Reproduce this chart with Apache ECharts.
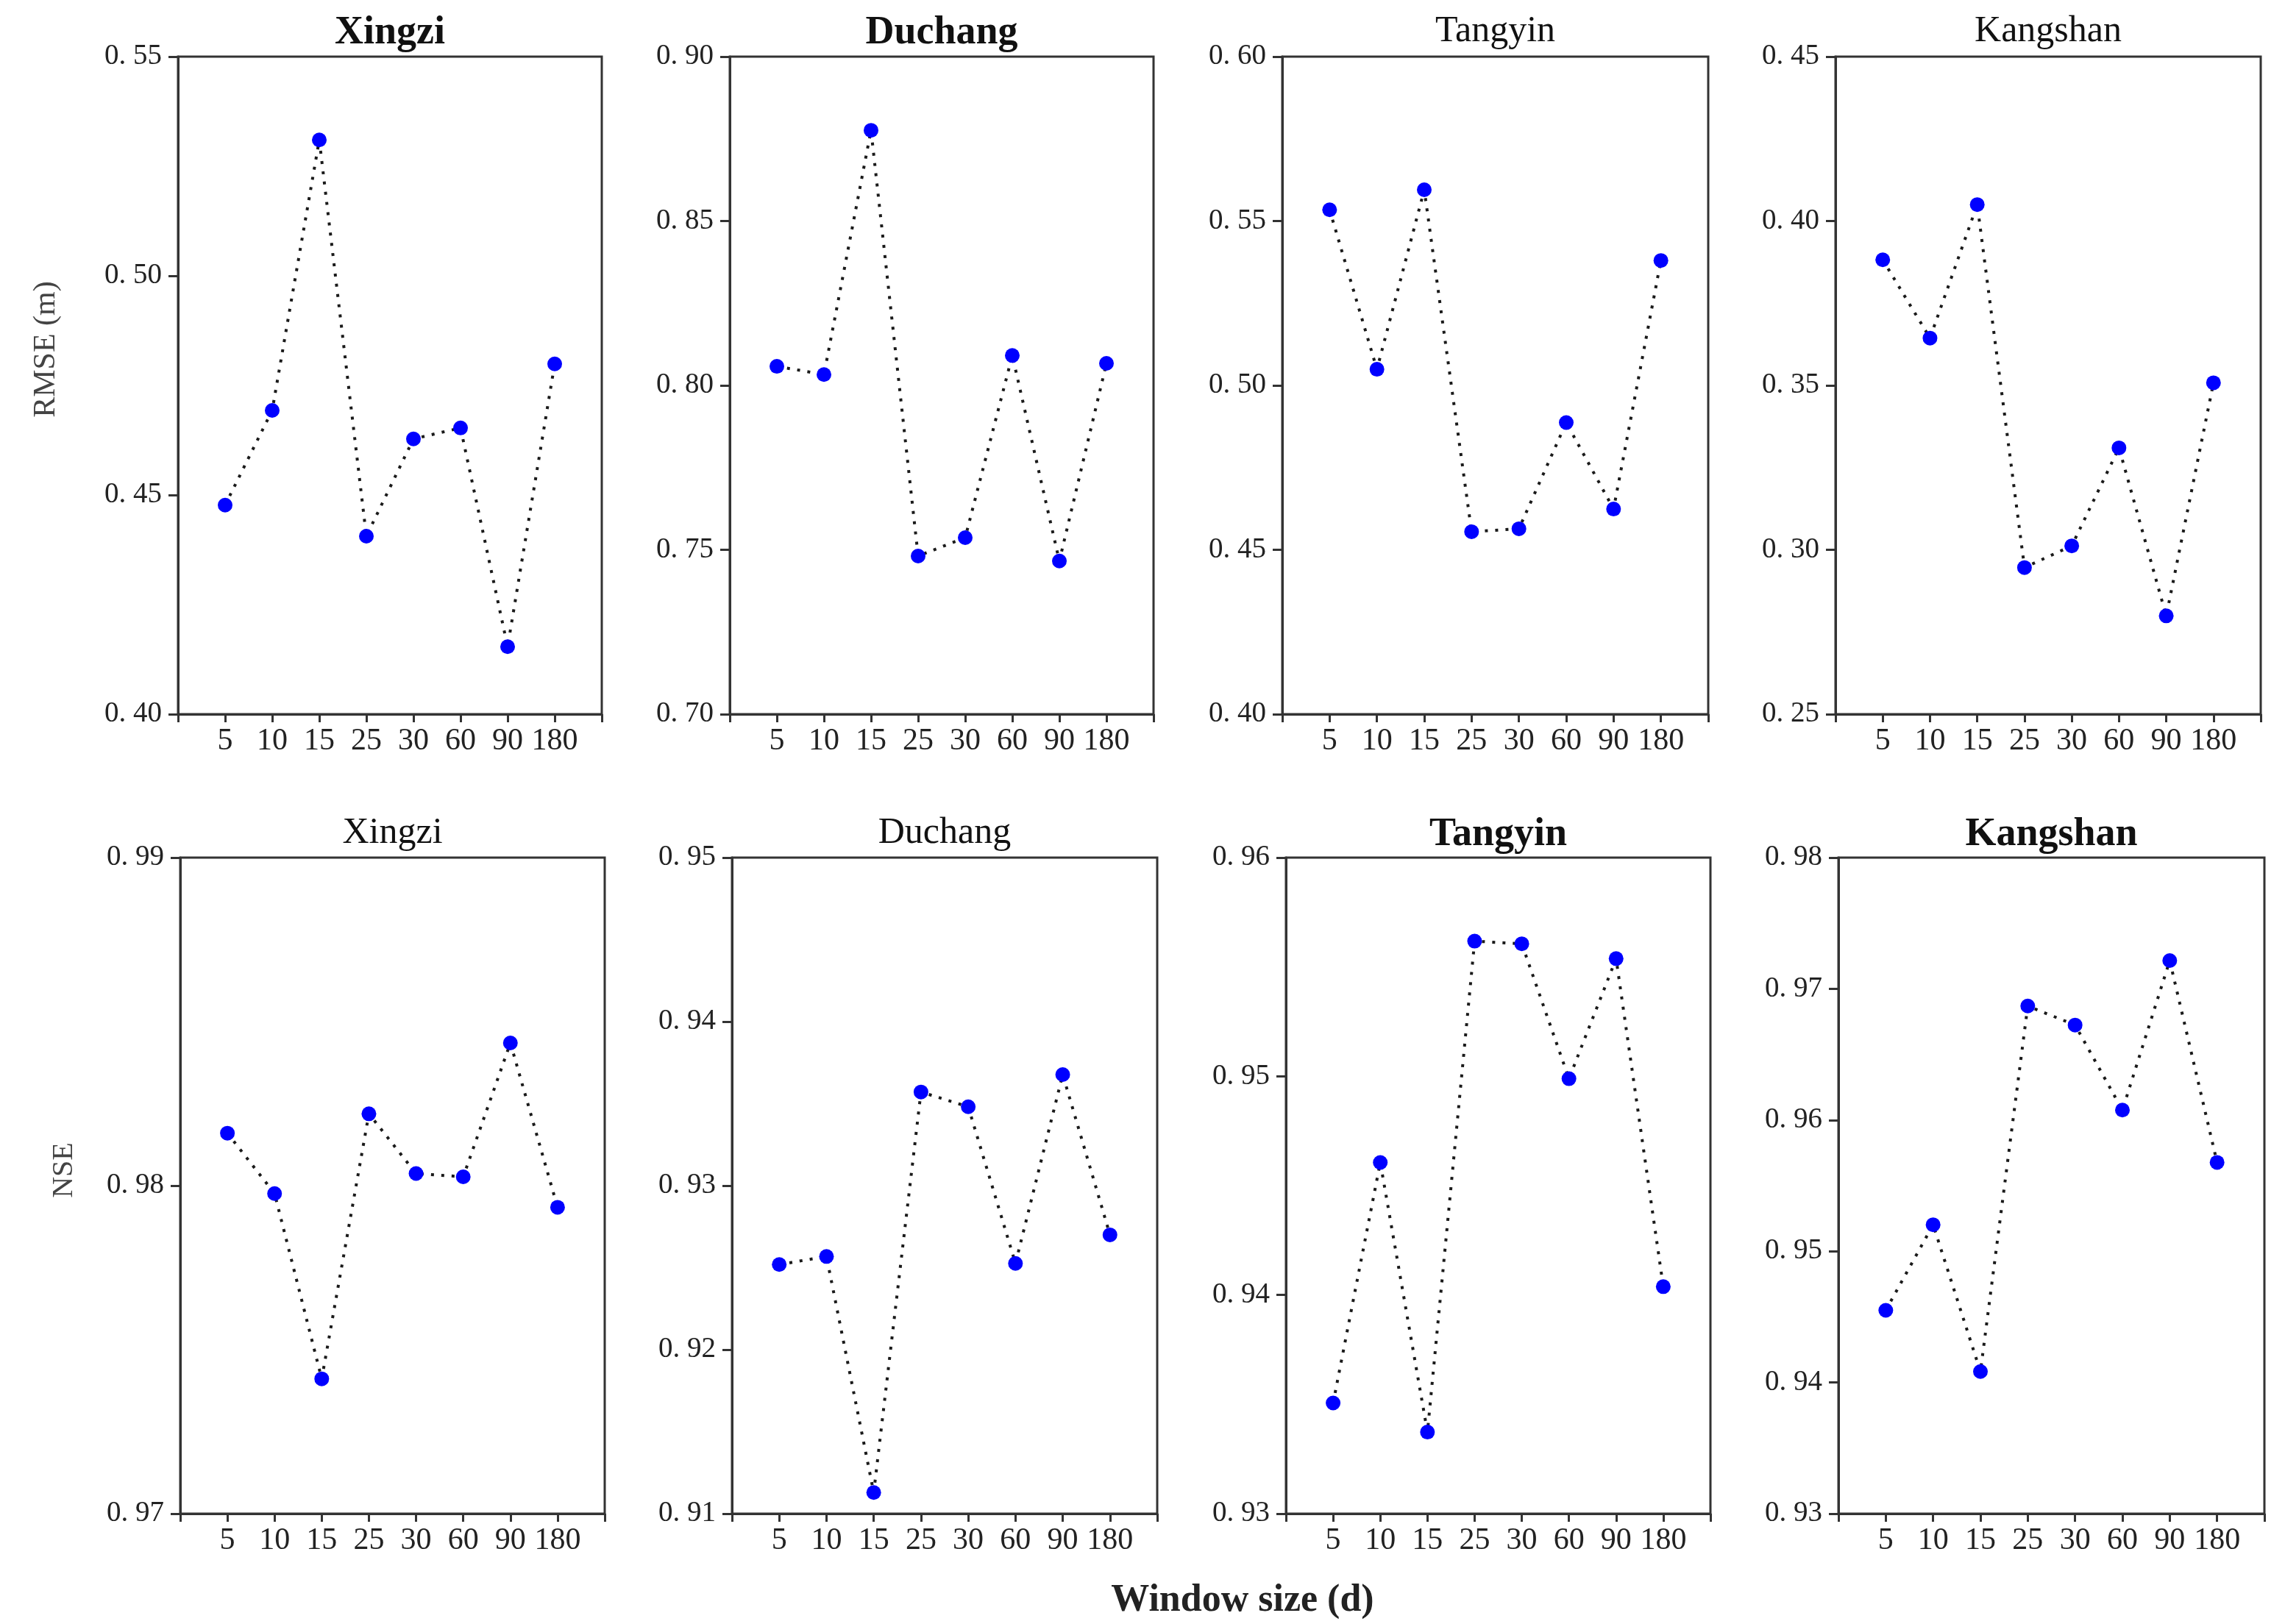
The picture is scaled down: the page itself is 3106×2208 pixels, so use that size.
<!DOCTYPE html>
<html>
<head>
<meta charset="utf-8">
<script src="https://cdn.jsdelivr.net/npm/echarts@6/dist/echarts.min.js"></script>
<style>
  html, body { margin: 0; padding: 0; background: #fff; }
  #main { width: 3106px; height: 2208px; }
</style>
</head>
<body>
<div id="main"></div>
<script>
// window sizes (d) on the x axis
const windowSizes = ['5', '10', '15', '25', '30', '60', '90', '180'];
const stations = ['Xingzi', 'Duchang', 'Tangyin', 'Kangshan'];

// RMSE (m), top row
const rmseXingzi   = [0.4477, 0.4693, 0.5310, 0.4406, 0.4628, 0.4653, 0.4154, 0.4799];
const rmseDuchang  = [0.8058, 0.8033, 0.8776, 0.7481, 0.7537, 0.8091, 0.7466, 0.8067];
const rmseTangyin  = [0.5534, 0.5049, 0.5595, 0.4555, 0.4564, 0.4887, 0.4624, 0.5380];
const rmseKangshan = [0.3882, 0.3644, 0.4050, 0.2946, 0.3012, 0.3310, 0.2799, 0.3508];

// NSE, bottom row
const nseXingzi   = [0.9816, 0.97976, 0.97411, 0.98219, 0.98037, 0.98027, 0.98435, 0.97934];
const nseDuchang  = [0.92519, 0.92568, 0.91129, 0.93571, 0.93481, 0.92526, 0.93677, 0.9270];
const nseTangyin  = [0.93506, 0.94606, 0.93373, 0.95618, 0.95606, 0.94989, 0.95538, 0.94038];
const nseKangshan = [0.9455, 0.95202, 0.94083, 0.96869, 0.96724, 0.96076, 0.97215, 0.95677];

// y axis ranges
const rmseMin = [0.40, 0.70, 0.40, 0.25];
const rmseMax = [0.55, 0.90, 0.60, 0.45];
const rmseStep = 0.05;
const nseMin = [0.97, 0.91, 0.93, 0.93];
const nseMax = [0.99, 0.95, 0.96, 0.98];
const nseStep = 0.01;

const rmseRows = [rmseXingzi, rmseDuchang, rmseTangyin, rmseKangshan];
const nseRows = [nseXingzi, nseDuchang, nseTangyin, nseKangshan];

const topBold = [true, true, false, false];
const bottomBold = [false, false, true, true];

const FONT = 'Liberation Serif';
const chart = echarts.init(document.getElementById('main'));

const panels = [
  // top row
  { left: 242, top: 77, width: 576, height: 894 },
  { left: 992, top: 77, width: 576, height: 894 },
  { left: 1743, top: 77, width: 579, height: 894 },
  { left: 2495, top: 77, width: 578, height: 894 },
  // bottom row
  { left: 245, top: 1166, width: 577, height: 892 },
  { left: 995, top: 1166, width: 578, height: 892 },
  { left: 1748, top: 1166, width: 577, height: 892 },
  { left: 2499, top: 1166, width: 579, height: 892 }
];

const grid = [], xAxis = [], yAxis = [], series = [], title = [];

panels.forEach((p, k) => {
  const row = k < 4 ? 0 : 1;
  const col = k % 4;
  const values = row === 0 ? rmseRows[col] : nseRows[col];
  const bold = row === 0 ? topBold[col] : bottomBold[col];

  grid.push({
    left: p.left, top: p.top, width: p.width, height: p.height,
    show: true, borderColor: '#333', borderWidth: 3, backgroundColor: 'transparent'
  });

  xAxis.push({
    type: 'value', gridIndex: k, min: 0, max: 9, interval: 1,
    axisLine: { lineStyle: { color: '#333', width: 3 } },
    axisTick: { show: true, length: 11, lineStyle: { color: '#333', width: 3 } },
    splitLine: { show: false },
    axisLabel: {
      margin: 16, fontFamily: FONT, fontSize: 42, color: '#222',
      formatter: v => windowSizes[v - 1] || ''
    }
  });

  yAxis.push({
    type: 'value', gridIndex: k,
    min: row === 0 ? rmseMin[col] : nseMin[col],
    max: row === 0 ? rmseMax[col] : nseMax[col],
    interval: row === 0 ? rmseStep : nseStep,
    axisLine: { show: true, lineStyle: { color: '#333', width: 3 } },
    axisTick: { show: true, length: 13, lineStyle: { color: '#333', width: 3 } },
    splitLine: { show: false },
    axisLabel: {
      margin: 22, fontFamily: FONT, fontSize: 39, color: '#222',
      formatter: v => v.toFixed(2).replace('.', '. ')
    }
  });

  series.push({
    type: 'line', xAxisIndex: k, yAxisIndex: k,
    data: values.map((v, i) => [i + 1, v]),
    symbol: 'circle', symbolSize: 20,
    itemStyle: { color: '#0000ff' },
    lineStyle: { color: '#1a1a1a', width: 4, type: [4, 10] },
    animation: false
  });

  title.push({
    text: stations[col],
    left: p.left + p.width / 2,
    top: row === 0 ? 18 : 1108,
    textAlign: 'center',
    padding: 0,
    textStyle: {
      fontFamily: FONT,
      fontSize: bold ? 54 : 50,
      fontWeight: bold ? 'bold' : 'normal',
      color: '#111'
    }
  });
});

chart.setOption({
  backgroundColor: '#fff',
  animation: false,
  title: title,
  grid: grid,
  xAxis: xAxis,
  yAxis: yAxis,
  series: series,
  graphic: [
    {
      type: 'text', x: 63, y: 475, rotation: Math.PI / 2,
      style: { text: 'RMSE (m)', fontFamily: FONT, fontSize: 42, fill: '#444', align: 'center', verticalAlign: 'middle' }
    },
    {
      type: 'text', x: 87, y: 1591, rotation: Math.PI / 2,
      style: { text: 'NSE', fontFamily: FONT, fontSize: 40, fill: '#444', align: 'center', verticalAlign: 'middle' }
    },
    {
      type: 'text', x: 1689, y: 2177,
      style: { text: 'Window size (d)', fontFamily: FONT, fontSize: 52, fontWeight: 'bold', fill: '#222', align: 'center', verticalAlign: 'middle' }
    }
  ]
});
</script>
</body>
</html>
